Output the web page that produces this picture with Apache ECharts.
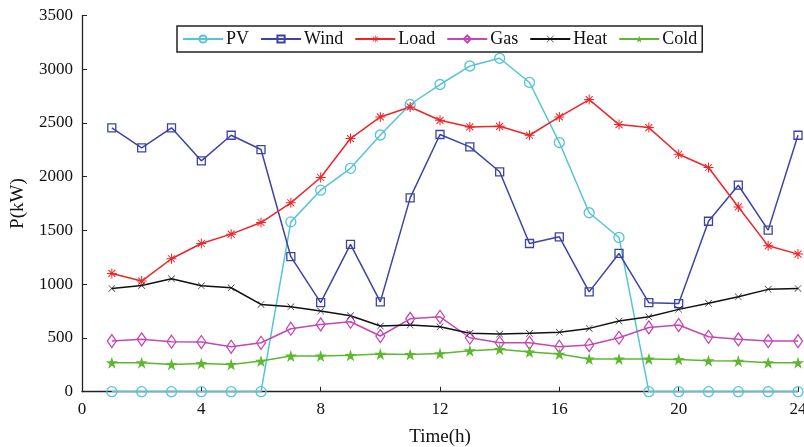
<!DOCTYPE html>
<html><head><meta charset="utf-8">
<script src="https://cdn.jsdelivr.net/npm/echarts@6/dist/echarts.min.js"></script>
<style>html,body{margin:0;padding:0;background:#fff}#c{width:804px;height:447px}</style>
</head><body><div id="c"></div>
<script>
const hours = [1,2,3,4,5,6,7,8,9,10,11,12,13,14,15,16,17,18,19,20,21,22,23,24];
const pv   = [0,0,0,0,0,0,1580,1875,2078,2388,2672,2858,3030,3102,2877,2318,1665,1435,0,0,0,0,0,0];
const wind = [2455,2268,2455,2148,2386,2253,1256,828,1370,836,1803,2393,2278,2046,1379,1441,929,1286,828,820,1586,1921,1503,2386];
const load = [1100,1029,1237,1379,1466,1574,1757,1993,2355,2556,2649,2525,2463,2469,2386,2556,2718,2485,2457,2209,2086,1719,1357,1280];
const gas  = [471,487,465,462,418,455,586,626,651,518,678,697,502,455,455,418,434,502,598,620,511,487,471,471];
const heat = [961,989,1050,985,967,812,790,750,706,611,620,604,543,536,543,552,589,657,697,766,822,883,952,961];
const cold = [270,270,254,263,254,285,332,332,338,350,347,355,381,394,369,350,304,304,304,300,288,285,270,270];
const names = ['PV','Wind','Load','Gas','Heat','Cold'];
const xTicks = [0,4,8,12,16,20,24];
const yTicks = [0,500,1000,1500,2000,2500,3000,3500];

const asterisk = 'path://M-1,-10L1,-10L1,10L-1,10Z M-10,-1L10,-1L10,1L-10,1Z M-6.3,-7.7L7.7,6.3L6.3,7.7L-7.7,-6.3Z M7.7,-6.3L-6.3,7.7L-7.7,6.3L6.3,-7.7Z';
const cross = 'path://M-6.6,-7.4L7.4,6.6L6.6,7.4L-7.4,-6.6Z M7.4,-6.6L-6.6,7.4L-7.4,6.6L6.6,-7.4Z';
const star5 = 'path://M0,-10L2.245,-3.09L9.511,-3.09L3.633,1.18L5.878,8.09L0,3.82L-5.878,8.09L-3.633,1.18L-9.511,-3.09L-2.245,-3.09Z';
const diamond = 'path://M0,-6L4,0L0,6L-4,0Z';

function mk(name, vals, color, symbol, size, hollow) {
  return {
    name, type: 'line', data: hours.map((h,i)=>[h, vals[i]]),
    symbol, symbolSize: size,
    lineStyle: {color, width: 1.5},
    itemStyle: hollow ? {color: 'rgba(255,255,255,0)', borderColor: color, borderWidth: 1.3} : {color, borderWidth: 0},
    emphasis: {disabled: true}, animation: false
  };
}
const font = '"Liberation Serif","Times New Roman",serif';
const chart = echarts.init(document.getElementById('c'));
chart.setOption({
  backgroundColor: '#fff',
  animation: false,
  grid: {left: 82, right: 6, top: 15.5, bottom: 55.3, containLabel: false, outerBoundsMode: 'none'},
  legend: {
    left: 177, top: 26, orient: 'horizontal',
    itemWidth: 40, itemHeight: 9, itemGap: 11,
    padding: [4, 5, 4, 5],
    borderColor: '#222', borderWidth: 1.5, backgroundColor: '#fff',
    textStyle: {fontFamily: font, fontSize: 18, color: '#111', padding: [0,0,0,-2]},
    data: names
  },
  xAxis: {
    type: 'value', min: 0, max: 24, interval: 4,
    name: 'Time(h)', nameLocation: 'middle', nameGap: 36,
    nameTextStyle: {fontFamily: font, fontSize: 19, color: '#111'},
    axisLine: {lineStyle: {color: '#222', width: 1.3}},
    axisTick: {inside: true, length: 5, lineStyle: {color: '#222'}},
    axisLabel: {fontFamily: font, fontSize: 17, color: '#111', margin: 9},
    splitLine: {show: false}
  },
  yAxis: {
    type: 'value', min: 0, max: 3500, interval: 500,
    name: 'P(kW)', nameLocation: 'middle', nameGap: 54,
    nameTextStyle: {fontFamily: font, fontSize: 19, color: '#111'},
    axisLine: {show: true, lineStyle: {color: '#222', width: 1.3}},
    axisTick: {show: true, inside: true, length: 5, lineStyle: {color: '#222'}},
    axisLabel: {fontFamily: font, fontSize: 17, color: '#111', margin: 9, formatter: v => String(v)},
    splitLine: {show: false}
  },
  series: [
    mk('PV', pv, '#55c4d6', 'circle', 10, true),
    mk('Wind', wind, '#3d44a6', 'rect', 8, true),
    mk('Load', load, '#ee2528', asterisk, 10, false),
    mk('Gas', gas, '#c448b4', diamond, [9,13], true),
    mk('Heat', heat, '#111111', cross, 7, false),
    mk('Cold', cold, '#5cb82e', star5, 12, false)
  ]
});
</script></body></html>
